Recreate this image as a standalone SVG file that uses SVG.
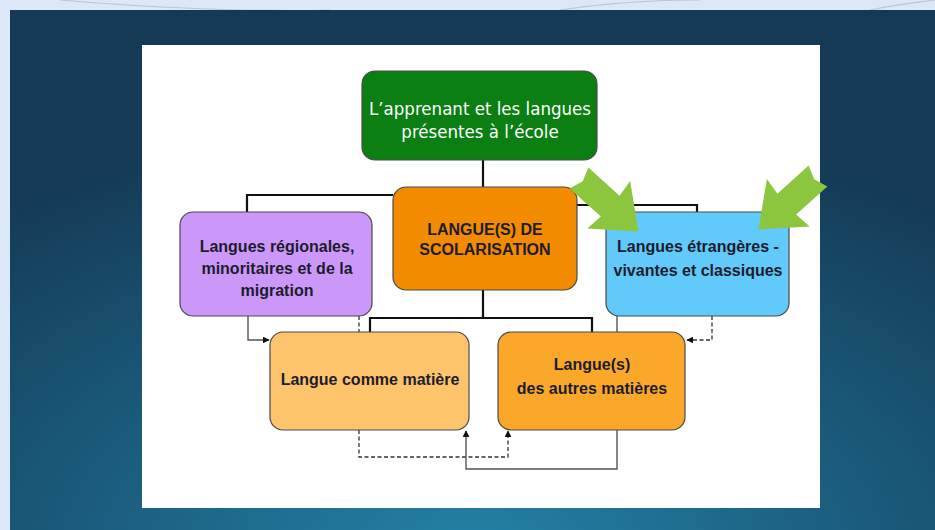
<svg xmlns="http://www.w3.org/2000/svg" width="935" height="530" viewBox="0 0 935 530">
<defs>
<radialGradient id="bg" cx="0.5" cy="1.05" r="0.85">
<stop offset="0" stop-color="#2383a8"/>
<stop offset="0.55" stop-color="#1a5878"/>
<stop offset="1" stop-color="#143a55"/>
</radialGradient>
<marker id="ah" viewBox="0 0 10 10" refX="9" refY="5" markerWidth="7" markerHeight="7" markerUnits="userSpaceOnUse" orient="auto">
<path d="M0,0 L10,5 L0,10 z" fill="#111"/>
</marker>
<path id="garrow" d="M0,-14 L42,-14 L40,-32 L80,0 L40,32 L42,14 L0,14 L5,0 z"/>
</defs>
<style>
.box{stroke:#4a4a4a;stroke-width:1.2}
.t{font-family:"Liberation Sans",Arial,sans-serif;font-weight:bold;font-size:16px;fill:#1c1c2c;text-anchor:middle}
.tw{font-family:"DejaVu Sans Condensed","DejaVu Sans",sans-serif;font-stretch:condensed;font-size:18.5px;fill:#ffffff;text-anchor:middle}
.tree{fill:none;stroke:#111;stroke-width:2.2}
.sol{fill:none;stroke:#555;stroke-width:1.4}
.dash{fill:none;stroke:#333;stroke-width:1.3;stroke-dasharray:4,2.5}
.ga{fill:#8cc63e}
</style>
<rect x="0" y="0" width="935" height="530" fill="#dce8f7"/>
<path d="M60,0 C150,8 260,12 330,10 M560,10 C600,4 640,0 700,0 M870,10 C900,4 920,2 935,0" fill="none" stroke="#b8c8da" stroke-width="1.2"/>
<rect x="10" y="10" width="925" height="520" fill="url(#bg)"/>
<rect x="142" y="45" width="678" height="463" fill="#ffffff"/>

<g id="connectors">
<line class="tree" x1="483" y1="160" x2="483" y2="187"/>
<polyline class="tree" points="247,212 247,195 393,195"/>
<polyline class="tree" points="577,205 697,205 697,212"/>
<line class="tree" x1="483" y1="290" x2="483" y2="318"/>
<polyline class="tree" points="370,332 370,318 592,318 592,332"/>
<polyline class="sol" points="248,316 248,340 269,340" marker-end="url(#ah)"/>
<line class="dash" x1="359" y1="316" x2="359" y2="332"/>
<line class="sol" x1="617" y1="316" x2="617" y2="332"/>
<polyline class="dash" points="712,316 712,340 687,340" marker-end="url(#ah)"/>
<polyline class="dash" points="359,430 359,457 508,457 508,431" marker-end="url(#ah)"/>
<polyline class="sol" points="617,430 617,469 466,469 466,431" marker-end="url(#ah)"/>
</g>

<g id="n-apprenant">
<rect class="box" x="362" y="71" width="235" height="89" rx="13" fill="#0b7f12" stroke="#2d4a1e"/>
<text class="tw" x="480" y="115">L’apprenant et les langues</text>
<text class="tw" x="480" y="138">présentes à l’école</text>
</g>

<g id="n-scolarisation">
<rect class="box" x="393" y="187" width="184" height="103" rx="13" fill="#f28b00"/>
<text class="t" x="485" y="235">LANGUE(S) DE</text>
<text class="t" x="485" y="255">SCOLARISATION</text>
</g>

<g id="n-regionales">
<rect class="box" x="180" y="212" width="192" height="104" rx="13" fill="#cb98fa"/>
<text class="t" x="277" y="252">Langues régionales,</text>
<text class="t" x="277" y="274">minoritaires et de la</text>
<text class="t" x="277" y="296">migration</text>
</g>

<g id="n-etrangeres">
<rect class="box" x="606" y="212" width="183" height="104" rx="13" fill="#62c9fb"/>
<text class="t" x="698" y="252">Langues étrangères -</text>
<text class="t" x="698" y="276">vivantes et classiques</text>
</g>

<g id="n-matiere">
<rect class="box" x="270" y="332" width="199" height="98" rx="13" fill="#fdc46c"/>
<text class="t" x="370" y="385">Langue comme matière</text>
</g>

<g id="n-autres">
<rect class="box" x="498" y="332" width="187" height="98" rx="13" fill="#fba82a"/>
<text class="t" x="592" y="370">Langue(s)</text>
<text class="t" x="592" y="394">des autres matières</text>
</g>

<g id="green-arrows">
<use href="#garrow" class="ga" transform="translate(579,178) rotate(42)"/>
<use href="#garrow" class="ga" transform="translate(818,176) rotate(138)"/>
</g>
</svg>
